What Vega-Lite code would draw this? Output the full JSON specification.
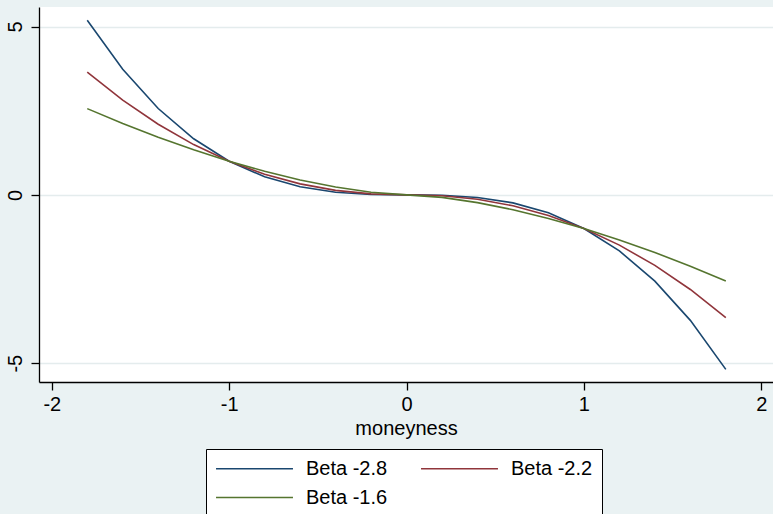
{
 "$schema": "https://vega.github.io/schema/vega-lite/v6.json",
 "width": 734, "height": 375,
 "autosize": {"type": "none"},
 "padding": {"left": 39, "top": 7, "right": 0, "bottom": 132},
 "background": "#eaf2f3",
 "config": {"view": {"fill": "white", "stroke": null}, "font": "Liberation Sans"},
 "data": {"values": [
  {"moneyness": -1.8, "series": "Beta -2.8", "y": 5.185}, {"moneyness": -1.6, "series": "Beta -2.8", "y": 3.729}, {"moneyness": -1.4, "series": "Beta -2.8", "y": 2.565}, {"moneyness": -1.2, "series": "Beta -2.8", "y": 1.666}, {"moneyness": -1.0, "series": "Beta -2.8", "y": 1.0}, {"moneyness": -0.8, "series": "Beta -2.8", "y": 0.535}, {"moneyness": -0.6, "series": "Beta -2.8", "y": 0.239}, {"moneyness": -0.4, "series": "Beta -2.8", "y": 0.077}, {"moneyness": -0.2, "series": "Beta -2.8", "y": 0.011}, {"moneyness": 0, "series": "Beta -2.8", "y": 0}, {"moneyness": 0.2, "series": "Beta -2.8", "y": -0.011}, {"moneyness": 0.4, "series": "Beta -2.8", "y": -0.077}, {"moneyness": 0.6, "series": "Beta -2.8", "y": -0.239}, {"moneyness": 0.8, "series": "Beta -2.8", "y": -0.535}, {"moneyness": 1.0, "series": "Beta -2.8", "y": -1.0}, {"moneyness": 1.2, "series": "Beta -2.8", "y": -1.666}, {"moneyness": 1.4, "series": "Beta -2.8", "y": -2.565}, {"moneyness": 1.6, "series": "Beta -2.8", "y": -3.729}, {"moneyness": 1.8, "series": "Beta -2.8", "y": -5.185},
  {"moneyness": -1.8, "series": "Beta -2.2", "y": 3.644}, {"moneyness": -1.6, "series": "Beta -2.2", "y": 2.812}, {"moneyness": -1.4, "series": "Beta -2.2", "y": 2.097}, {"moneyness": -1.2, "series": "Beta -2.2", "y": 1.493}, {"moneyness": -1.0, "series": "Beta -2.2", "y": 1.0}, {"moneyness": -0.8, "series": "Beta -2.2", "y": 0.612}, {"moneyness": -0.6, "series": "Beta -2.2", "y": 0.325}, {"moneyness": -0.4, "series": "Beta -2.2", "y": 0.133}, {"moneyness": -0.2, "series": "Beta -2.2", "y": 0.029}, {"moneyness": 0, "series": "Beta -2.2", "y": 0}, {"moneyness": 0.2, "series": "Beta -2.2", "y": -0.029}, {"moneyness": 0.4, "series": "Beta -2.2", "y": -0.133}, {"moneyness": 0.6, "series": "Beta -2.2", "y": -0.325}, {"moneyness": 0.8, "series": "Beta -2.2", "y": -0.612}, {"moneyness": 1.0, "series": "Beta -2.2", "y": -1.0}, {"moneyness": 1.2, "series": "Beta -2.2", "y": -1.493}, {"moneyness": 1.4, "series": "Beta -2.2", "y": -2.097}, {"moneyness": 1.6, "series": "Beta -2.2", "y": -2.812}, {"moneyness": 1.8, "series": "Beta -2.2", "y": -3.644},
  {"moneyness": -1.8, "series": "Beta -1.6", "y": 2.561}, {"moneyness": -1.6, "series": "Beta -1.6", "y": 2.121}, {"moneyness": -1.4, "series": "Beta -1.6", "y": 1.713}, {"moneyness": -1.2, "series": "Beta -1.6", "y": 1.339}, {"moneyness": -1.0, "series": "Beta -1.6", "y": 1.0}, {"moneyness": -0.8, "series": "Beta -1.6", "y": 0.700}, {"moneyness": -0.6, "series": "Beta -1.6", "y": 0.442}, {"moneyness": -0.4, "series": "Beta -1.6", "y": 0.231}, {"moneyness": -0.2, "series": "Beta -1.6", "y": 0.076}, {"moneyness": 0, "series": "Beta -1.6", "y": 0}, {"moneyness": 0.2, "series": "Beta -1.6", "y": -0.076}, {"moneyness": 0.4, "series": "Beta -1.6", "y": -0.231}, {"moneyness": 0.6, "series": "Beta -1.6", "y": -0.442}, {"moneyness": 0.8, "series": "Beta -1.6", "y": -0.700}, {"moneyness": 1.0, "series": "Beta -1.6", "y": -1.0}, {"moneyness": 1.2, "series": "Beta -1.6", "y": -1.339}, {"moneyness": 1.4, "series": "Beta -1.6", "y": -1.713}, {"moneyness": 1.6, "series": "Beta -1.6", "y": -2.121}, {"moneyness": 1.8, "series": "Beta -1.6", "y": -2.561}
 ]},
 "mark": {"type": "line", "strokeWidth": 1.6, "clip": true},
 "encoding": {
  "x": {"field": "moneyness", "type": "quantitative",
   "scale": {"domain": [-2.072, 2.066], "nice": false, "zero": false},
   "axis": {"values": [-2, -1, 0, 1, 2], "labelExpr": "'' + datum.value", "grid": false, "domainColor": "black", "domainWidth": 1.3, "tickColor": "black", "tickSize": 8, "tickWidth": 1.3,
    "labelFontSize": 20, "labelColor": "black", "labelPadding": 4, "labelFlush": false,
    "title": "moneyness", "titleFontSize": 20, "titleFontWeight": "normal", "titleColor": "black", "titlePadding": 4}},
  "y": {"field": "y", "type": "quantitative",
   "scale": {"domain": [-5.56, 5.58], "nice": false, "zero": false},
   "axis": {"values": [-5, 0, 5], "labelExpr": "'' + datum.value", "grid": true, "gridColor": "#e4eced", "gridWidth": 1.5, "domainColor": "black", "domainWidth": 1.3, "tickColor": "black", "tickSize": 8, "tickWidth": 1.3,
    "labelFontSize": 20, "labelColor": "black", "labelAngle": 270, "labelAlign": "center", "labelBaseline": "bottom", "labelPadding": 6, "labelFlush": false,
    "title": null}},
  "color": {"field": "series", "type": "nominal",
   "scale": {"domain": ["Beta -2.8", "Beta -2.2", "Beta -1.6"], "range": ["#1a476f", "#90353b", "#55752f"]},
   "legend": {"title": null, "orient": "none", "legendX": 167, "legendY": 442, "columns": 2, "direction": "horizontal",
    "fillColor": "white", "strokeColor": "black", "padding": 9,
    "symbolType": "M-4,0H4", "symbolSize": 370, "symbolStrokeWidth": 1.6, "symbolOffset": 29,
    "labelFontSize": 20, "labelColor": "black", "labelOffset": 41, "columnPadding": 29, "rowPadding": 8}}
 }
}
